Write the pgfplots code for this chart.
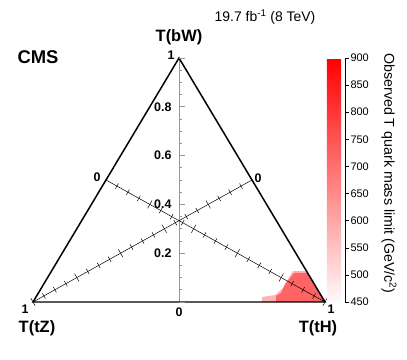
\documentclass[border=0pt]{standalone}
\usepackage{pgfplots}
\pgfplotsset{compat=1.18}
\usepackage{fontspec}
\setmainfont{Liberation Sans}
\definecolor{fringe}{RGB}{255,180,180}
\definecolor{mainred}{RGB}{255,100,100}
\definecolor{axgray}{RGB}{150,150,150}
\newcommand{\fs}[1]{\fontsize{#1}{#1}\selectfont}
\begin{document}
\begin{tikzpicture}
\begin{axis}[
  scale only axis, width=407bp, height=360bp,
  xmin=-0.11301, xmax=1.28082, ymin=-0.23770, ymax=1.23770,
  axis lines=none, clip=false,
  colormap={cb}{rgb255=(255,250,250) rgb255=(255,0,0)},
  point meta min=450, point meta max=900,
  colorbar,
  colorbar style={
    at={(0.8034,0.8389)}, anchor=north west,
    scale only axis, width=18bp, height=244bp,
    axis x line=none, axis y line*=right,
    y axis line style={-, line width=0.5pt},
    ytick={450,500,550,600,650,700,750,800,850,900},
    yticklabels={450,500,550,600,650,700,750,800,850,900},
    yticklabel style={font=\fs{11}, xshift=-2bp},
    tick align=outside, major tick length=4bp,
    tick style={black, line width=0.5pt},
    ylabel={Observed T quark mass limit (GeV/c\textsuperscript{2})},
    ylabel style={font=\fs{14.3}, rotate=180, at={(axis description cs:3.44,0.527)}, anchor=center},
  },
]
% observed limit region (near T(tH) corner)
\addplot[draw=none, fill=fringe] coordinates {
 (1,0) (0.9365,0.1270) (0.8904,0.1270) (0.8801,0.1066) (0.8527,0.0533)
 (0.8288,0.0287) (0.7842,0.0205) (0.7842,0) } -- cycle;
\addplot[draw=none, fill=mainred] coordinates {
 (1,0) (0.9406,0.1189) (0.8938,0.1189) (0.8664,0.0779) (0.8493,0.0369)
 (0.8322,0.0246) (0.8322,0) } -- cycle;
% vertical (bW) axis
\addplot[axgray, line width=0.9pt] coordinates {(0.5,0) (0.5,1)};
\addplot[only marks, mark=-, mark size=3bp, mark options={axgray, line width=0.9pt, xshift=3bp}]
 coordinates {(0.5,0) (0.5,0.2) (0.5,0.4) (0.5,0.6) (0.5,0.8) (0.5,1)};
\addplot[only marks, mark=-, mark size=1.6bp, mark options={axgray, line width=0.9pt, xshift=1.6bp}]
 coordinates {(0.5,0.05) (0.5,0.1) (0.5,0.15) (0.5,0.25) (0.5,0.3) (0.5,0.35)
 (0.5,0.45) (0.5,0.5) (0.5,0.55) (0.5,0.65) (0.5,0.7) (0.5,0.75)
 (0.5,0.85) (0.5,0.9) (0.5,0.95)};
% median towards T(tH)
\addplot[black, line width=0.5pt] coordinates {(0.25,0.5) (1,0)};
\addplot[only marks, mark=|, mark size=4.5bp, mark options={black, line width=0.5pt, rotate=-29.12}]
 coordinates {(0.25,0.5) (0.4,0.4) (0.55,0.3) (0.7,0.2) (0.85,0.1) (1,0)};
\addplot[only marks, mark=|, mark size=3bp, mark options={black, line width=0.5pt, rotate=-29.12}]
 coordinates {(0.2875,0.475) (0.325,0.45) (0.3625,0.425) (0.4375,0.375) (0.475,0.35)
 (0.5125,0.325) (0.5875,0.275) (0.625,0.25) (0.6625,0.225) (0.7375,0.175)
 (0.775,0.15) (0.8125,0.125) (0.8875,0.075) (0.925,0.05) (0.9625,0.025)};
% median towards T(tZ)
\addplot[black, line width=0.5pt] coordinates {(0.75,0.5) (0,0)};
\addplot[only marks, mark=|, mark size=4.5bp, mark options={black, line width=0.5pt, rotate=29.12}]
 coordinates {(0.75,0.5) (0.6,0.4) (0.45,0.3) (0.3,0.2) (0.15,0.1) (0,0)};
\addplot[only marks, mark=|, mark size=3bp, mark options={black, line width=0.5pt, rotate=29.12}]
 coordinates {(0.7125,0.475) (0.675,0.45) (0.6375,0.425) (0.5625,0.375) (0.525,0.35)
 (0.4875,0.325) (0.4125,0.275) (0.375,0.25) (0.3375,0.225) (0.2625,0.175)
 (0.225,0.15) (0.1875,0.125) (0.1125,0.075) (0.075,0.05) (0.0375,0.025)};
% triangle
\addplot[black, line width=1.5pt, line join=miter] coordinates {(0,0) (1,0) (0.5,1)} -- cycle;
% labels
\node[anchor=west, font=\bfseries\fs{18.5}] at (axis cs:-0.0650,1.0041) {CMS};
\node[font=\fs{14}] at (axis cs:0.7945,1.168) {19.7 fb\textsuperscript{-1} (8 TeV)};
\node[font=\bfseries\fs{16.5}] at (axis cs:0.5,1.086) {T(bW)};
\node[font=\bfseries\fs{16.5}] at (axis cs:0.0137,-0.1066) {T(tZ)};
\node[font=\bfseries\fs{16.5}] at (axis cs:0.976,-0.1066) {T(tH)};
\node[font=\bfseries\fs{12.5}] at (axis cs:0.4726,1.0123) {1};
\node[anchor=east, font=\bfseries\fs{12.5}] at (axis cs:0.4863,0.8) {0.8};
\node[anchor=east, font=\bfseries\fs{12.5}] at (axis cs:0.4863,0.6) {0.6};
\node[anchor=east, font=\bfseries\fs{12.5}] at (axis cs:0.4863,0.4) {0.4};
\node[anchor=east, font=\bfseries\fs{12.5}] at (axis cs:0.4863,0.2) {0.2};
\node[font=\bfseries\fs{12.5}] at (axis cs:0.5,-0.041) {0};
\node[font=\bfseries\fs{12.5}] at (axis cs:0.2192,0.5123) {0};
\node[font=\bfseries\fs{12.5}] at (axis cs:0.7705,0.508) {0};
\node[font=\bfseries\fs{12.5}] at (axis cs:-0.0274,-0.0287) {1};
\node[font=\bfseries\fs{12.5}] at (axis cs:1.0205,-0.0287) {1};
\end{axis}
\pgfresetboundingbox
\path (current axis.south west) rectangle (current axis.north east);
\end{tikzpicture}
\end{document}
